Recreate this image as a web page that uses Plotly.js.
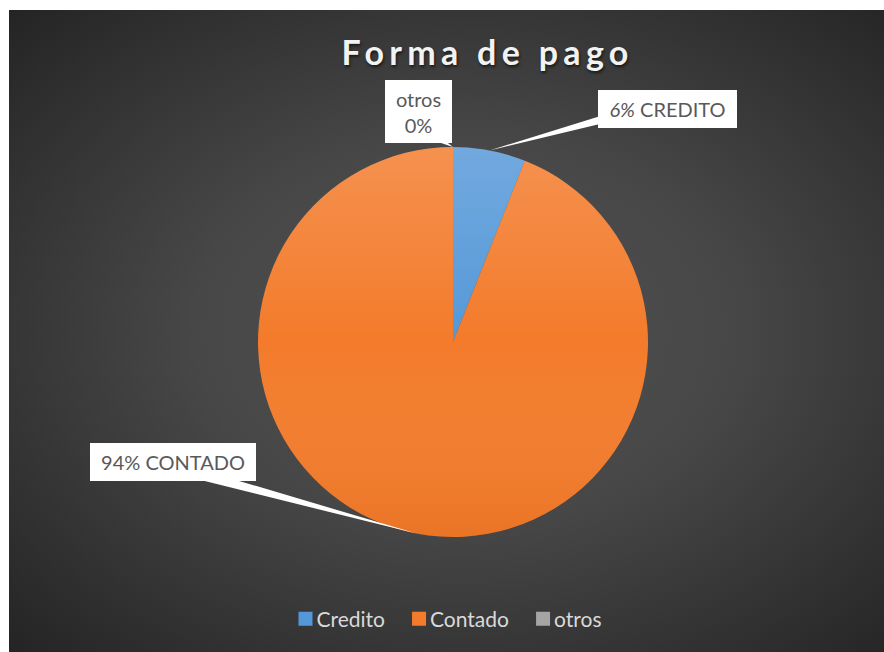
<!DOCTYPE html>
<html>
<head>
<meta charset="utf-8">
<script src="https://cdn.plot.ly/plotly-3.0.1.min.js"></script>
<style>
  html, body { margin: 0; padding: 0; background: #ffffff; }
  #wrap { position: relative; width: 884px; height: 652px; overflow: hidden; }
  #bg { position: absolute; left: 9px; top: 10px; width: 875px; height: 642px;
        background: radial-gradient(ellipse farthest-corner at 52% 50%, #525252 0%, #474747 42%, #242424 100%); }
  #chart { position: absolute; left: 0; top: 0; width: 884px; height: 652px; }
  #chart .gtitle { letter-spacing: 5.3px; }
</style>
</head>
<body>
<div id="wrap">
  <div id="bg"></div>
  <div id="chart"></div>
</div>
<script>
// ---- data ----
const categories = ['Credito', 'Contado', 'otros'];
const values = [6, 94, 0];
const labelNames = ['CREDITO', 'CONTADO', 'otros'];
const sliceColors = ['#5598D8', '#F37B2B', '#A5A5A5'];
const chartTitle = 'Forma de pago';

// ---- layout constants (pixels) ----
const W = 884, H = 652;
const CX = 453, CY = 342, R = 195;

const px = x => x / W;
const py = y => 1 - y / H;

const total = values.reduce((a, b) => a + b, 0);
const pct = values.map(v => Math.round(v / total * 100) + '%');

// label texts built from data
const labelTexts = [
  '<i>' + pct[0] + '</i> ' + labelNames[0],
  pct[1] + ' ' + labelNames[1],
  labelNames[2] + '<br>' + pct[2]
];

// label boxes: center x, center y, width, height, tail base x, base y, tail half width
const boxes = [
  { cx: 667.5, cy: 109, w: 139, h: 38, bx: 604, by: 119, hw: 4 },
  { cx: 173, cy: 462, w: 166, h: 38, bx: 205, by: 476, hw: 5 },
  { cx: 418.5, cy: 111.5, w: 67, h: 63, bx: 440, by: 140, hw: 2.5 }
];

// slice mid angles (clockwise from 12 o'clock)
let cum = 0;
const midAngles = values.map(v => {
  const a0 = cum / total * 2 * Math.PI;
  cum += v;
  const a1 = cum / total * 2 * Math.PI;
  return (a0 + a1) / 2;
});

const shapes = [];
const annotations = [];
boxes.forEach((b, i) => {
  const tx = CX + R * Math.sin(midAngles[i]);
  const ty = CY - R * Math.cos(midAngles[i]);
  const dx = tx - b.bx, dy = ty - b.by;
  const L = Math.hypot(dx, dy) || 1;
  const nx = -dy / L * b.hw, ny = dx / L * b.hw;
  const p1 = [b.bx + nx, b.by + ny], p2 = [b.bx - nx, b.by - ny];
  shapes.push({
    type: 'path', xref: 'paper', yref: 'paper',
    path: `M ${px(p1[0])},${py(p1[1])} L ${px(tx)},${py(ty)} L ${px(p2[0])},${py(p2[1])} Z`,
    fillcolor: '#FFFFFF', line: { width: 0 }, layer: 'above'
  });
  annotations.push({
    xref: 'paper', yref: 'paper', x: px(b.cx), y: py(b.cy),
    xanchor: 'center', yanchor: 'middle',
    text: labelTexts[i], showarrow: false,
    width: b.w, height: b.h, borderpad: 0, borderwidth: 0,
    bgcolor: '#FFFFFF', align: 'center', valign: 'middle',
    font: { family: 'Lato, "Open Sans", sans-serif', size: 20, color: '#595959' }
  });
});

const domX = [px(CX - R), px(CX + R)];
const domY = [py(CY + R), py(CY - R)];

const gradSvg = "<svg xmlns='http://www.w3.org/2000/svg' viewBox='0 0 100 100'>" +
  "<defs><linearGradient id='g' x1='0' y1='0' x2='0' y2='1'>" +
  "<stop offset='0' stop-color='#ffffff' stop-opacity='0.17'/>" +
  "<stop offset='0.5' stop-color='#ffffff' stop-opacity='0'/>" +
  "<stop offset='1' stop-color='#B84A00' stop-opacity='0.14'/>" +
  "</linearGradient></defs><circle cx='50' cy='50' r='50' fill='url(#g)'/></svg>";

const data = [{
  type: 'pie',
  labels: categories,
  values: values,
  sort: false,
  direction: 'clockwise',
  rotation: 0,
  textinfo: 'none',
  hoverinfo: 'none',
  marker: { colors: sliceColors, line: { width: 0 } },
  domain: { x: domX, y: domY }
}];

const layout = {
  width: W, height: H,
  margin: { l: 0, r: 0, t: 0, b: 0 },
  paper_bgcolor: 'rgba(0,0,0,0)',
  plot_bgcolor: 'rgba(0,0,0,0)',
  title: {
    text: chartTitle,
    x: 0.5515, xanchor: 'center',
    y: py(53), yanchor: 'middle',
    font: { family: 'Lato, "Open Sans", sans-serif', size: 34, weight: 700, color: '#F2F2F2',
            shadow: '1px 2px 3px rgba(0,0,0,0.6)' }
  },
  showlegend: true,
  legend: {
    orientation: 'h', x: 0.5, xanchor: 'center', y: py(619), yanchor: 'middle',
    font: { family: 'Lato, "Open Sans", sans-serif', size: 21, color: '#D9D9D9' },
    bgcolor: 'rgba(0,0,0,0)', itemclick: false, itemdoubleclick: false
  },
  shapes: shapes,
  annotations: annotations,
  images: [{
    source: 'data:image/svg+xml;charset=utf-8,' + encodeURIComponent(gradSvg),
    xref: 'paper', yref: 'paper', x: domX[0], y: domY[1],
    sizex: domX[1] - domX[0], sizey: domY[1] - domY[0],
    xanchor: 'left', yanchor: 'top', sizing: 'stretch', layer: 'above', opacity: 1
  }]
};

Plotly.newPlot('chart', data, layout, { displayModeBar: false, staticPlot: true }).then(gd => {
  // enlarge legend swatches and bring them close to their text, as in the reference
  gd.querySelectorAll('.legend .traces').forEach(tr => {
    const p = tr.querySelector('path.legendpie');
    if (p) {
      p.setAttribute('transform', 'translate(0,0)');
      p.setAttribute('d', 'M22,7H36V-7H22Z');
    }
  });
});
</script>
</body>
</html>
